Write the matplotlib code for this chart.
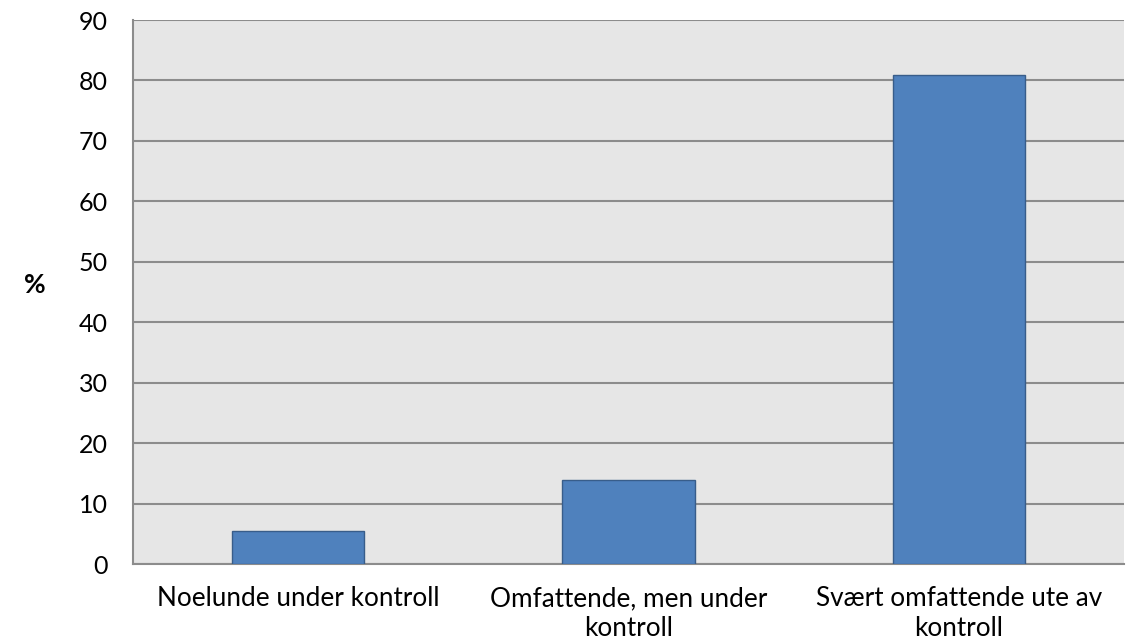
import matplotlib
matplotlib.use("Agg")
import matplotlib.pyplot as plt

categories = ["Noelunde under kontroll", "Omfattende, men under\nkontroll", "Svært omfattende ute av\nkontroll"]
values = [5.4, 13.9, 80.9]
yticks = [0, 10, 20, 30, 40, 50, 60, 70, 80, 90]

plt.rcParams['font.family'] = ['Lato', 'DejaVu Sans']

fig = plt.figure(figsize=(11.33, 6.43), dpi=100)
ax = fig.add_axes([133/1133, 1 - 564/643, (1124-133)/1133, (564-20)/643])
ax.set_facecolor('#E6E6E6')
x = list(range(len(categories)))
ax.bar(x, values, width=0.4, color='#4F81BD', edgecolor='#385D8A', linewidth=1, zorder=3)
ax.set_xlim(-0.5, len(categories) - 0.5)
ax.set_ylim(0, 90)
ax.set_yticks(yticks)
ax.set_yticklabels([str(t) for t in yticks], fontsize=18)
ax.set_xticks(x)
ax.set_xticklabels(categories, fontsize=18.8, linespacing=1.22)
ax.tick_params(axis='both', length=0)
ax.tick_params(axis='y', pad=18)
ax.tick_params(axis='x', pad=16)
ax.yaxis.grid(True, color='#8C8C8C', linewidth=1.5, zorder=0)
ax.set_axisbelow(True)
for s in ['top', 'right']:
    ax.spines[s].set_visible(False)
for s in ['left', 'bottom']:
    ax.spines[s].set_color('#8C8C8C')
    ax.spines[s].set_linewidth(1.5)
fig.text(35/1133, 1 - 285/643, '%', fontsize=19, fontweight='bold', ha='center', va='center')
fig.savefig('out.png', dpi=100)
